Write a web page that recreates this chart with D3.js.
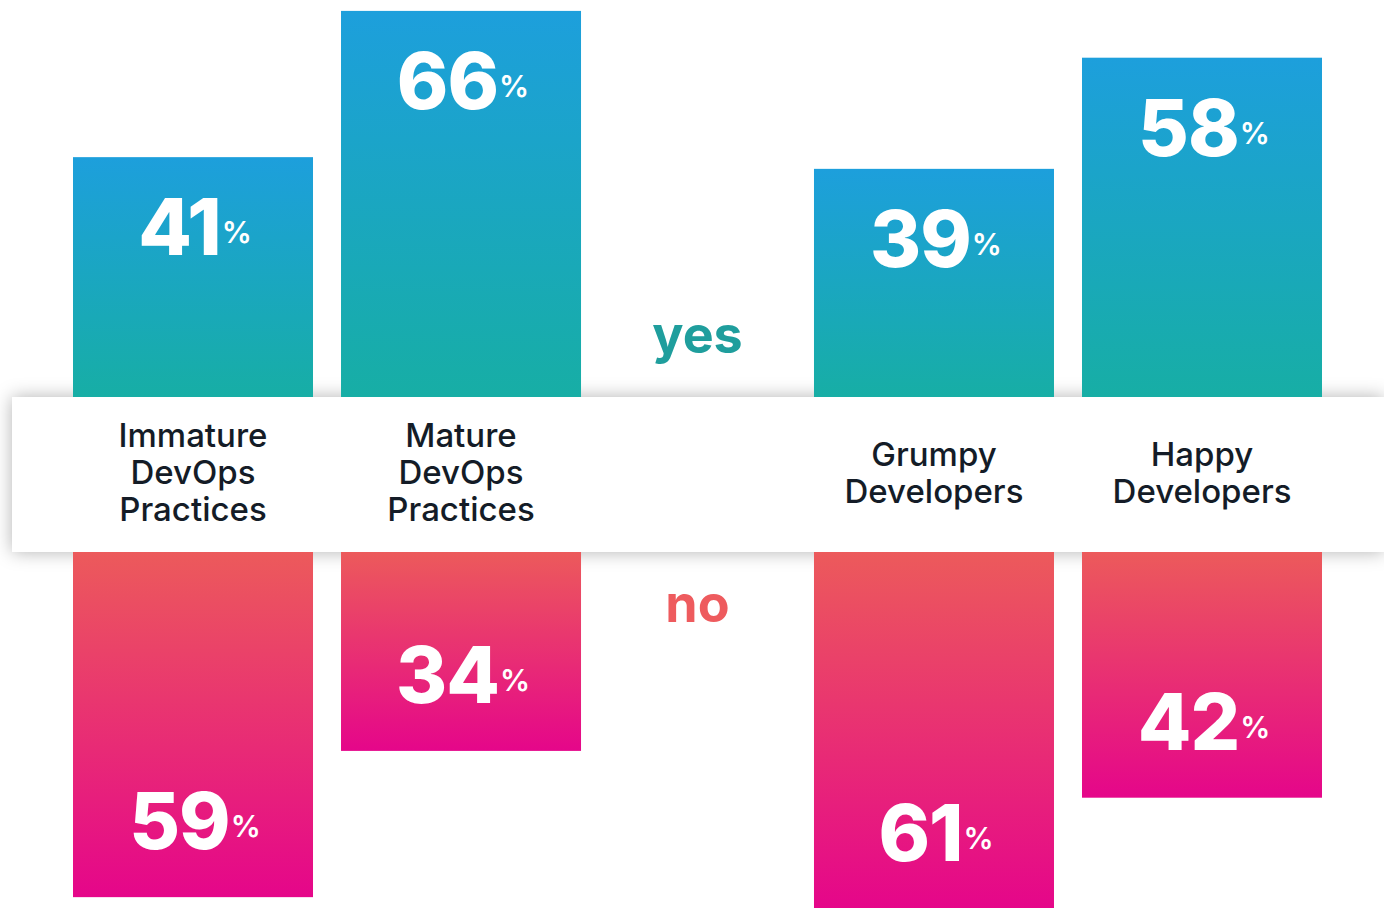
<!DOCTYPE html>
<html>
<head>
<meta charset="utf-8">
<script src="https://cdn.jsdelivr.net/npm/d3@7"></script>
<style>
  html, body { margin: 0; padding: 0; background: #fff; }
  svg { display: block; }
</style>
</head>
<body>
<svg id="chart"></svg>
<script>
// data
var groups = ["maturity", "happiness"];
var categories = ["Immature DevOps Practices", "Mature DevOps Practices", "Grumpy Developers", "Happy Developers"];
var categoryGroup = ["maturity", "maturity", "happiness", "happiness"];
var categoryLines = [["Immature", "DevOps", "Practices"], ["Mature", "DevOps", "Practices"], ["Grumpy", "Developers"], ["Happy", "Developers"]];
var yesValues = [41, 66, 39, 58];
var noValues = [59, 34, 61, 42];
var seriesNames = ["yes", "no"];

var width = 1384,
    height = 908;

var svg = d3.select("#chart")
    .attr("width", width)
    .attr("height", height);

// the white band with the category names sits between the two series
var bandTop = 397,
    bandBottom = 552;

// outer scale = the two pairs, inner scale = the bars in a pair
var xGroup = d3.scaleBand()
    .domain(groups)
    .range([73, 1322])
    .paddingInner(0.3144);

var xInner = d3.scaleBand()
    .domain([0, 1])
    .range([0, xGroup.bandwidth()])
    .paddingInner(0.1045);

// percent -> bar length in px
var len = d3.scaleLinear()
    .domain([0, 100])
    .range([0, 585]);

var rows = categories.map(function(c, i) {
  var idx = categoryGroup.slice(0, i).filter(function(g) { return g === categoryGroup[i]; }).length;
  return {
    name: c,
    lines: categoryLines[i],
    x: xGroup(categoryGroup[i]) + xInner(idx),
    yes: yesValues[i],
    no: noValues[i]
  };
});

var defs = svg.append("defs");

var gYes = defs.append("linearGradient").attr("id", "gradYes")
    .attr("x1", 0).attr("y1", 0).attr("x2", 0).attr("y2", 1);
gYes.append("stop").attr("offset", "0%").attr("stop-color", "#1d9fdc");
gYes.append("stop").attr("offset", "100%").attr("stop-color", "#17aea5");

var gNo = defs.append("linearGradient").attr("id", "gradNo")
    .attr("x1", 0).attr("y1", 0).attr("x2", 0).attr("y2", 1);
gNo.append("stop").attr("offset", "0%").attr("stop-color", "#ec5a5b");
gNo.append("stop").attr("offset", "100%").attr("stop-color", "#e5068a");

var blur = defs.append("filter").attr("id", "bandShadow")
    .attr("x", "-5%").attr("y", "-30%").attr("width", "110%").attr("height", "160%");
blur.append("feGaussianBlur").attr("stdDeviation", 9);

// shadow behind the band
svg.append("rect")
    .attr("x", 12)
    .attr("y", bandTop)
    .attr("width", width - 12)
    .attr("height", bandBottom - bandTop)
    .attr("fill", "#000")
    .attr("fill-opacity", 0.3)
    .attr("filter", "url(#bandShadow)");

// yes bars, growing up from the band
svg.selectAll(".bar-yes")
    .data(rows)
    .enter()
    .append("rect")
    .attr("class", "bar-yes")
    .attr("x", function(d) { return d.x; })
    .attr("y", function(d) { return bandTop - len(d.yes); })
    .attr("width", xInner.bandwidth())
    .attr("height", function(d) { return len(d.yes); })
    .attr("fill", "url(#gradYes)");

// no bars, hanging down from the band
svg.selectAll(".bar-no")
    .data(rows)
    .enter()
    .append("rect")
    .attr("class", "bar-no")
    .attr("x", function(d) { return d.x; })
    .attr("y", bandBottom)
    .attr("width", xInner.bandwidth())
    .attr("height", function(d) { return len(d.no); })
    .attr("fill", "url(#gradNo)");

// the band itself
svg.append("rect")
    .attr("x", 12)
    .attr("y", bandTop)
    .attr("width", width - 12)
    .attr("height", bandBottom - bandTop)
    .attr("fill", "#fff");

var font = "Inter, Lato, sans-serif";

// value labels
function valueLabel(sel) {
  sel.attr("text-anchor", "middle")
    .attr("fill", "#fff")
    .style("font-family", font)
    .style("font-weight", 800)
    .style("font-size", "78px")
    .style("letter-spacing", "-1px");
  sel.append("tspan").text(function(d) { return d.v; });
  sel.append("tspan")
    .attr("dy", -12)
    .attr("dx", 1)
    .style("font-size", "30px")
    .style("font-weight", 600)
    .style("letter-spacing", "0px")
    .text("%");
}

svg.selectAll(".lab-yes")
    .data(rows.map(function(r) { return { x: r.x, v: r.yes }; }))
    .enter()
    .append("text")
    .attr("class", "lab-yes")
    .attr("x", function(d) { return d.x + xInner.bandwidth() / 2 + 2; })
    .attr("y", function(d) { return bandTop - len(d.v) + 98; })
    .call(valueLabel);

svg.selectAll(".lab-no")
    .data(rows.map(function(r) { return { x: r.x, v: r.no }; }))
    .enter()
    .append("text")
    .attr("class", "lab-no")
    .attr("x", function(d) { return d.x + xInner.bandwidth() / 2 + 2; })
    .attr("y", function(d) { return bandBottom + len(d.v) - 48; })
    .call(valueLabel);

// category names in the band
var lineH = 37,
    midBase = 484;

svg.selectAll(".cat")
    .data(rows)
    .enter()
    .append("text")
    .attr("class", "cat")
    .attr("text-anchor", "middle")
    .attr("fill", "#141c27")
    .style("font-family", font)
    .style("font-weight", 500)
    .style("font-size", "33px")
    .each(function(d) {
      var t = d3.select(this);
      var n = d.lines.length;
      d.lines.forEach(function(line, i) {
        t.append("tspan")
          .attr("x", d.x + xInner.bandwidth() / 2)
          .attr("y", midBase + (i - (n - 1) / 2) * lineH)
          .text(line);
      });
    });

// series names in the gap between the pairs
var gapMid = (xGroup(groups[0]) + xGroup.bandwidth() + xGroup(groups[1])) / 2;

svg.append("text")
    .attr("x", gapMid)
    .attr("y", 353)
    .attr("text-anchor", "middle")
    .attr("fill", "#1f9e9d")
    .style("font-family", font)
    .style("font-weight", 700)
    .style("font-size", "52px")
    .text(seriesNames[0]);

svg.append("text")
    .attr("x", gapMid)
    .attr("y", 622)
    .attr("text-anchor", "middle")
    .attr("fill", "#ee5b5e")
    .style("font-family", font)
    .style("font-weight", 700)
    .style("font-size", "52px")
    .text(seriesNames[1]);
</script>
</body>
</html>
